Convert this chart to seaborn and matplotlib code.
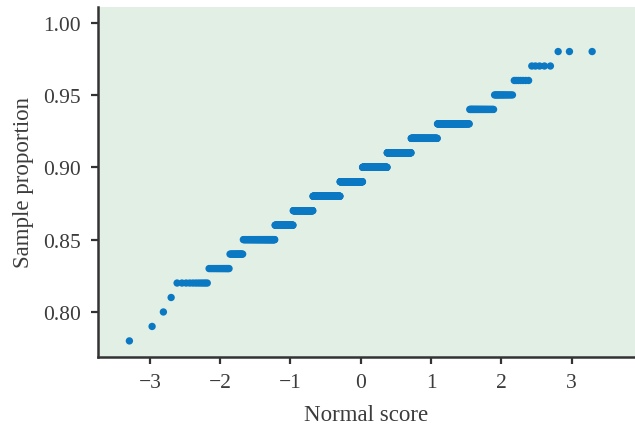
import numpy as np
import pandas as pd
import matplotlib
matplotlib.use("Agg")
import matplotlib.pyplot as plt
import seaborn as sns
from statistics import NormalDist

# sample proportion levels and how many samples fell on each
proportions = [0.78, 0.79, 0.80, 0.81, 0.82, 0.83, 0.84, 0.85, 0.86, 0.87, 0.88,
               0.89, 0.90, 0.91, 0.92, 0.93, 0.94, 0.95, 0.96, 0.97, 0.98]
counts = [1, 1, 1, 1, 11, 16, 16, 64, 57, 80, 136,
          126, 136, 117, 99, 77, 32, 14, 7, 5, 3]

x_ticks = [-3, -2, -1, 0, 1, 2, 3]
y_ticks = [0.80, 0.85, 0.90, 0.95, 1.00]

# build the sorted sample and its normal scores
values = np.repeat(proportions, counts)
n = len(values)
nd = NormalDist()
scores = [nd.inv_cdf((i - 0.5) / n) for i in range(1, n + 1)]
df = pd.DataFrame({"Normal score": scores, "Sample proportion": values})

sns.set_style("ticks")
plt.rcParams["font.family"] = ["Liberation Serif", "DejaVu Serif"]

fig = plt.figure(figsize=(6.35, 4.27), dpi=100)
ax = fig.add_axes([0.154, 0.162, 0.846, 0.82])
ax.set_facecolor("#e1efe5")

sns.scatterplot(data=df, x="Normal score", y="Sample proportion", ax=ax,
                color="#0a78c2", s=28, edgecolor="none", linewidth=0)

ax.set_xlim(-3.74, 3.9)
ax.set_ylim(0.769, 1.011)
ax.set_xticks(x_ticks)
ax.set_xticklabels([f"{t}".replace("-", "\u2212") for t in x_ticks])
ax.set_yticks(y_ticks)
ax.set_yticklabels([f"{t:.2f}" for t in y_ticks])

for side in ["top", "right"]:
    ax.spines[side].set_visible(False)
for side in ["left", "bottom"]:
    ax.spines[side].set_linewidth(1.8)
    ax.spines[side].set_color("#333333")

ax.tick_params(axis="both", direction="out", length=5, width=1.6,
               color="#333333", labelsize=15.5, labelcolor="#3c3c3c", pad=7)
ax.set_xlabel("Normal score", fontsize=16.5, color="#3c3c3c", labelpad=8)
ax.set_ylabel("Sample proportion", fontsize=16.5, color="#3c3c3c", labelpad=7)

fig.savefig("out.png", dpi=100)
